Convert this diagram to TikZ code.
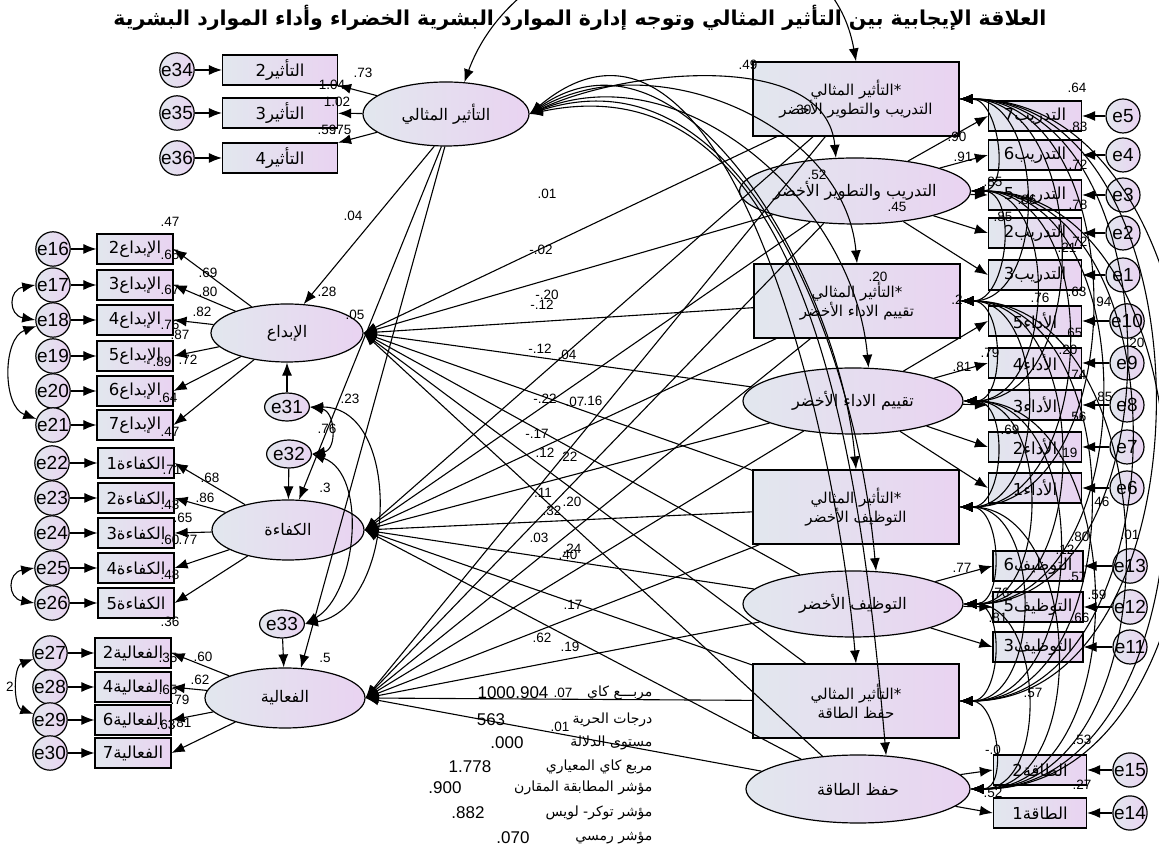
\documentclass[tikz,border=0pt]{standalone}
\usepackage{fontspec}
\setmainfont{Liberation Sans}
\newfontfamily\arabicfont[Script=Arabic]{DejaVu Sans}
\TeXXeTstate=1
\usetikzlibrary{arrows.meta,shapes.geometric}
\newcommand{\artxt}[1]{{\arabicfont\beginR #1\endR}}
\definecolor{shadeL}{HTML}{E2E7EE}
\definecolor{shadeR}{HTML}{E9D3F1}
\tikzset{
  latent/.style={ellipse, draw, line width=1.2pt, left color=shadeL, right color=shadeR, inner sep=0pt, font=\fontsize{16}{18}\selectfont},
  observed/.style={rectangle, draw, line width=1.2pt, left color=shadeL, right color=shadeR, minimum width=76pt, minimum height=30pt, inner sep=0pt, font=\fontsize{16.5}{18}\selectfont},
  interbox/.style={observed, minimum width=206pt, minimum height=74pt, align=center, font=\fontsize{15}{19}\selectfont},
  errvar/.style={circle, draw, line width=1.2pt, left color=shadeL, right color=shadeR, minimum size=34pt, inner sep=0pt, font=\fontsize{19}{19}\selectfont},
  est/.style={inner sep=0pt, font=\fontsize{13.5}{13.5}\selectfont},
  fitlbl/.style={inner sep=0pt, font=\fontsize{14}{16}\selectfont},
  fitval/.style={inner sep=0pt, font=\fontsize{17}{17}\selectfont},
}
\begin{document}
\begin{tikzpicture}[x=1pt, y=1pt, >={Latex[length=13pt,width=10pt]}, line width=1.1pt]
  \fill[white] (0,0) rectangle (1159,854);
  \useasboundingbox (0,0) rectangle (1159,854);
  \clip (0,0) rectangle (1159,854);

  % Title
  \node[font=\bfseries\fontsize{20.5}{24}\selectfont] (title) at (580,836) {\artxt{العلاقة الإيجابية بين التأثير المثالي وتوجه إدارة الموارد البشرية الخضراء وأداء الموارد البشرية}};

  % Idealised influence with its indicators
  \node[latent, minimum width=166pt, minimum height=64pt] (tathir) at (446,740) {\artxt{التأثير المثالي}};
  \foreach \i/\y/\e in {2/784/34,3/741/35,4/696/36} {
    \node[observed, minimum width=115pt] (tathir\i) at (280,\y) {\artxt{التأثير\i}};
    \node[errvar] (e\e) at (177,\y) {e\e};
    \draw[->] (e\e) -- (tathir\i);
    \draw[->] (tathir) -- (tathir\i);
  }

  % Outcomes on the left
  \node[latent, minimum width=152pt, minimum height=58pt] (ibdaa) at (287,521) {\artxt{الإبداع}};
  \node[latent, minimum width=152pt, minimum height=60pt] (kafaa) at (288,324) {\artxt{الكفاءة}};
  \node[latent, minimum width=160pt, minimum height=60pt] (faaliya) at (285,156) {\artxt{الفعالية}};
  \foreach \i/\y/\e in {2/605/16,3/569/17,4/534/18,5/498/19,6/463/20,7/429/21} {
    \node[observed] (ibdaa\i) at (135,\y) {\artxt{الإبداع\i}};
    \node[errvar] (e\e) at (53,\y) {e\e};
    \draw[->] (e\e) -- (ibdaa\i);
    \draw[->] (ibdaa) -- (ibdaa\i.east);
  }
  \foreach \i/\y/\e in {1/391/22,2/356/23,3/321/24,4/286/25,5/251/26} {
    \node[observed] (kafaa\i) at (136,\y) {\artxt{الكفاءة\i}};
    \node[errvar] (e\e) at (52,\y) {e\e};
    \draw[->] (e\e) -- (kafaa\i);
    \draw[->] (kafaa) -- (kafaa\i.east);
  }
  \foreach \i/\y/\e in {2/201/27,4/167/28,6/134/29,7/101/30} {
    \node[observed] (faal\i) at (133,\y) {\artxt{الفعالية\i}};
    \node[errvar] (e\e) at (50,\y) {e\e};
    \draw[->] (e\e) -- (faal\i);
    \draw[->] (faaliya) -- (faal\i.east);
  }

  % Disturbances
  \node[errvar, ellipse, minimum width=36pt, minimum height=28pt] (e31) at (287,447) {e31};
  \node[errvar, ellipse, minimum width=36pt, minimum height=28pt] (e32) at (289,400) {e32};
  \node[errvar, ellipse, minimum width=36pt, minimum height=28pt] (e33) at (282,230) {e33};
  \draw[->] (e31) -- (ibdaa);
  \draw[->] (e32) -- (kafaa);
  \draw[->] (e33) -- (faaliya);
  \draw[<->] (e31.east) to[out=-10,in=10,looseness=1.4] (e32.east);
  \draw[<->] (e31.east) to[out=0,in=10,looseness=1.1] (e33.east);
  \draw[<->] (e32.east) to[out=-20,in=30,looseness=0.9] (e33.east);
  \draw[<->] (e17.west) to[out=190,in=170,looseness=2] (e18.west);
  \draw[<->] (e18.200) to[out=200,in=160,looseness=1] (e21.160);
  \draw[<->] (e25.west) to[out=190,in=170,looseness=2] (e26.west);
  \draw[<->] (e27.200) to[out=200,in=160,looseness=1] (e29.160);

  % Practices and interaction terms on the right
  \node[interbox] (trainX) at (856,755) {\artxt{*التأثير المثالي}\\\artxt{التدريب والتطوير الأخضر}};
  \node[latent, minimum width=224pt, minimum height=66pt] (trainL) at (855,663) {\artxt{التدريب والتطوير الأخضر}};
  \node[interbox] (perfX) at (857,553) {\artxt{*التأثير المثالي}\\\artxt{تقييم الاداء الأخضر}};
  \node[latent, minimum width=220pt, minimum height=66pt] (perfL) at (853,453) {\artxt{تقييم الاداء الأخضر}};
  \node[interbox] (hireX) at (856,347) {\artxt{*التأثير المثالي}\\\artxt{التوظيف الأخضر}};
  \node[latent, minimum width=220pt, minimum height=66pt] (hireL) at (853,250) {\artxt{التوظيف الأخضر}};
  \node[interbox] (energyX) at (856,153) {\artxt{*التأثير المثالي}\\\artxt{حفظ الطاقة}};
  \node[latent, minimum width=224pt, minimum height=68pt] (energyL) at (858,65) {\artxt{حفظ الطاقة}};

  \foreach \i/\y/\e in {7/738/5,6/699/4,5/659/3,2/621/2,3/579/1} {
    \node[observed, minimum width=93pt] (trn\i) at (1035,\y) {\artxt{التدريب\i}};
    \node[errvar] (e\e) at (1123,\y) {e\e};
    \draw[->] (e\e) -- (trn\i);
    \draw[->] (trainL) -- (trn\i.west);
  }
  \foreach \i/\y/\e in {5/533/10,4/491/9,3/449/8,2/407/7,1/366/6} {
    \node[observed, minimum width=93pt] (perf\i) at (1035,\y) {\artxt{الأداء\i}};
    \node[errvar] (e\e) at (1127,\y) {e\e};
    \draw[->] (e\e) -- (perf\i);
    \draw[->] (perfL) -- (perf\i.west);
  }
  \foreach \i/\y/\e in {6/288/13,5/247/12,3/207/11} {
    \node[observed, minimum width=90pt] (hire\i) at (1038,\y) {\artxt{التوظيف\i}};
    \node[errvar] (e\e) at (1130,\y) {e\e};
    \draw[->] (e\e) -- (hire\i);
    \draw[->] (hireL) -- (hire\i.west);
  }
  \foreach \i/\y/\e in {2/84/15,1/41/14} {
    \node[observed, minimum width=93pt] (nrg\i) at (1040,\y) {\artxt{الطاقة\i}};
    \node[errvar] (e\e) at (1130,\y) {e\e};
    \draw[->] (e\e) -- (nrg\i);
    \draw[->] (energyL) -- (nrg\i.west);
  }

  % Structural paths
  \foreach \src in {trainX,trainL,perfX,perfL,hireX,hireL,energyX,energyL}
    \foreach \dst in {ibdaa,kafaa,faaliya}
      \draw[->] (\src) -- (\dst.east);
  \draw[->] (tathir.250) -- (ibdaa.60);
  \draw[->] (tathir.262) -- (kafaa.70);
  \draw[->] (tathir.268) -- (faaliya.62);

  % Covariances among exogenous terms
  \draw[<->] (tathir.60) to[out=70,in=100,looseness=1.2] (trainX.north);
  \foreach \dst/\a/\o/\k in {trainL/120/25/0.9,perfX/90/30/1,perfL/65/22/1,hireX/90/35/1,hireL/55/18/1,energyX/90/40/1,energyL/50/12/1}
    \draw[<->] (tathir.east) to[out=\o,in=95,looseness=\k] (\dst.\a);
  \foreach \a [count=\i] in {trainX,trainL,perfX,perfL,hireX,hireL,energyX,energyL}
    \foreach \b [count=\j] in {trainX,trainL,perfX,perfL,hireX,hireL,energyX,energyL}
      {\ifnum\j>\i \draw[<->] (\a.east) to[out=0,in=0,looseness=1.1] (\b.east); \fi}

  % Estimates
  \foreach \x/\y/\t [count=\n] in {
    363/781/.73, 332/769/1.04, 337/752/1.02, 327/724/.59, 342/724/.75,
    353/638/.04, 327/562/.28, 355/539/.05, 350/455/.23, 327/425/.76, 325/366/.3, 325/196/.5,
    547/660/.01, 541/604/-.02, 547/559/-.20, 542/549/-.12, 540/505/-.12, 567/499/.04,
    545/455/-.22, 575/452/.07, 593/453/.16, 537/420/-.17, 545/401/.12, 568/397/.22,
    543/361/.11, 572/352/.20, 552/343/.32, 539/316/.03, 572/305/.24, 568/299/.40,
    573/249/.17, 542/216/.62, 570/207/.19, 563/161/.07, 560/127/.01, 748/789/.49,
    208/581/.69, 208/562/.80, 202/542/.82, 180/519/.87, 188/494/.72, 162/492/.89,
    170/632/.47, 170/599/.65, 170/564/.67, 170/529/.76, 168/456/.64, 170/422/.47,
    210/376/.68, 205/356/.86, 183/336/.65, 188/314/.77, 170/314/.60, 172/384/.71,
    170/349/.43, 170/279/.48, 170/232/.36,
    203/197/.60, 200/174/.62, 180/154/.79, 182/131/.81, 168/196/.35, 168/164/.65, 166/129/.63,
    10/167/2,
    1077/766/.64, 1078/727/.83, 957/717/.90, 963/697/.91, 817/679/.52, 897/647/.45,
    802/744/.30, 993/672/.85, 1027/654/.86, 1078/649/.78, 1078/612/.72, 1003/637/.85,
    1067/606/.21, 1078/689/.72,
    878/577/.20, 957/554/.2, 1040/556/.76, 1077/562/.63, 1102/552/.94, 1073/521/.65,
    1068/504/.20, 1135/511/.20, 990/501/.79, 962/487/.81, 1077/479/.74, 1103/457/.85,
    1077/437/.56, 1010/424/.69, 1068/401/.19, 1100/352/.46,
    1080/317/.80, 1130/319/.01, 1065/304/.12, 962/286/.77, 1077/277/.57, 1097/259/.59,
    1000/261/.76, 1080/236/.66, 998/236/.81,
    1033/161/.57, 1082/114/.53, 993/104/-.0, 993/61/.52, 1082/69/.27}
    \node[est] (est\n) at (\x,\y) {\t};

  % Fit statistics
  \foreach \t/\y [count=\n] in {مربـــع كاي/161, درجات الحرية/134, مستوى الدلالة/111, مربع كاي المعياري/87, مؤشر المطابقة المقارن/66, مؤشر توكر- لويس/41, مؤشر رمسي/16}
    \node[fitlbl, anchor=east] (fit\n) at (653,\y) {\artxt{\t}};
  \foreach \v/\x/\y [count=\n] in {1000.904/513/161, 563/491/134, .000/507/111, 1.778/470/87, .900/445/66, .882/468/41, .070/513/16}
    \node[fitval] (val\n) at (\x,\y) {\v};
\end{tikzpicture}
\end{document}
